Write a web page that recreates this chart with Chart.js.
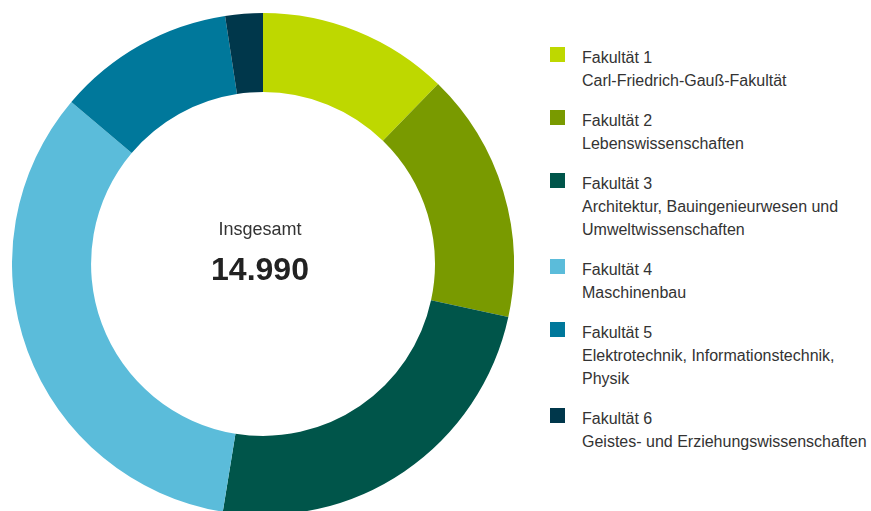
<!DOCTYPE html>
<html>
<head>
<meta charset="utf-8">
<script src="https://cdn.jsdelivr.net/npm/chart.js@4"></script>
<style>
    html, body { margin: 0; padding: 0; background: #fff; }
    body { width: 871px; height: 511px; overflow: hidden; position: relative; font-family: "Liberation Sans", Arial, sans-serif; color: #333; }
    #chart-wrap { position: absolute; left: 12px; top: 13px; width: 502px; height: 502px; }
    #legend { position: absolute; left: 550px; top: 46px; margin: 0; padding: 0; list-style: none; }
    #legend li { position: relative; padding-left: 32px; margin-bottom: 17px; font-size: 16px; line-height: 23px; white-space: nowrap; }
    #legend .box { position: absolute; left: 0; top: 1px; width: 15px; height: 15px; }
</style>
</head>
<body>
<div id="chart-wrap"><canvas id="donut"></canvas></div>
<ul id="legend"></ul>
<script>
const labels = ['Fakultät 1', 'Fakultät 2', 'Fakultät 3', 'Fakultät 4', 'Fakultät 5', 'Fakultät 6'];
const subtitles = [
    ['Carl-Friedrich-Gauß-Fakultät'],
    ['Lebenswissenschaften'],
    ['Architektur, Bauingenieurwesen und', 'Umweltwissenschaften'],
    ['Maschinenbau'],
    ['Elektrotechnik, Informationstechnik,', 'Physik'],
    ['Geistes- und Erziehungswissenschaften']
];
const students = [1841, 2415, 3623, 5038, 1711, 362];
const colors = ['#bed800', '#799a00', '#00554a', '#5bbcda', '#00789b', '#00374b'];
const totalLabel = 'Insgesamt';
const totalText = '14.990';

// Center label
const centerText = {
    id: 'centerText',
    afterDraw(chart) {
        const meta = chart.getDatasetMeta(0);
        if (!meta.data.length) return;
        const { x, y } = meta.data[0];
        const ctx = chart.ctx;
        ctx.save();
        ctx.textAlign = 'center';
        ctx.textBaseline = 'alphabetic';
        ctx.fillStyle = '#333';
        ctx.font = '18px "Liberation Sans", Arial, sans-serif';
        ctx.fillText(totalLabel, x - 3, y - 29);
        ctx.fillStyle = '#222';
        ctx.font = 'bold 32px "Liberation Sans", Arial, sans-serif';
        ctx.fillText(totalText, x - 3, y + 16);
        ctx.restore();
    }
};

new Chart(document.getElementById('donut'), {
    type: 'doughnut',
    data: {
        labels: labels,
        datasets: [{
            data: students,
            backgroundColor: colors,
            borderWidth: 0,
            hoverOffset: 0
        }]
    },
    options: {
        responsive: true,
        maintainAspectRatio: false,
        animation: false,
        cutout: '68.5%',
        layout: { padding: 0 },
        plugins: {
            legend: { display: false },
            tooltip: { enabled: false }
        }
    },
    plugins: [centerText]
});

// HTML legend
const legend = document.getElementById('legend');
labels.forEach(function(label, i) {
    const li = document.createElement('li');
    const box = document.createElement('span');
    box.className = 'box';
    box.style.background = colors[i];
    li.appendChild(box);
    [label].concat(subtitles[i]).forEach(function(line) {
        const div = document.createElement('div');
        div.textContent = line;
        li.appendChild(div);
    });
    legend.appendChild(li);
});
</script>
</body>
</html>
